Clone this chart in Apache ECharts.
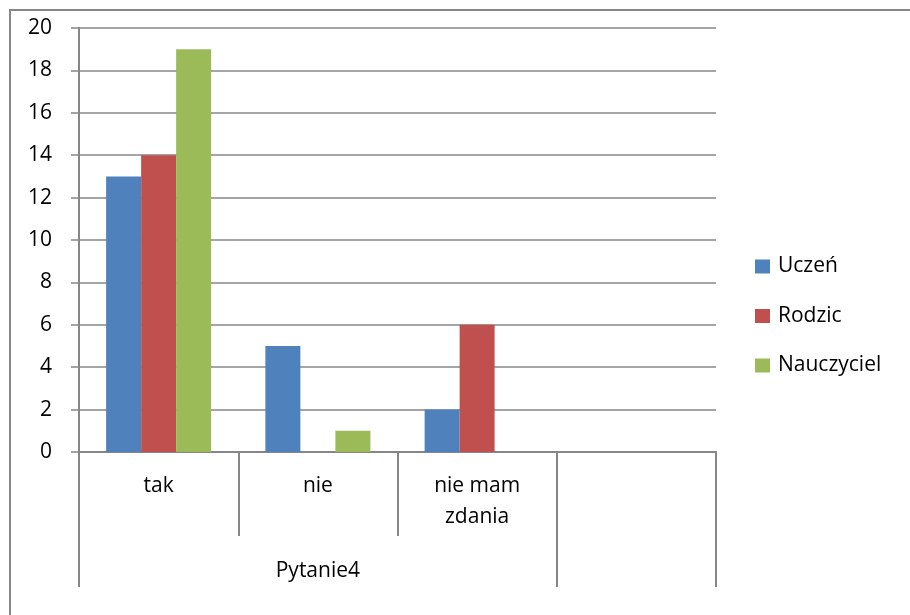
<!DOCTYPE html>
<html>
<head>
<meta charset="utf-8">
<script src="https://cdn.jsdelivr.net/npm/echarts@6/dist/echarts.min.js"></script>
<style>
  html, body { margin: 0; padding: 0; background: #fff; }
  #frame {
    position: absolute; left: 9px; top: 9px; width: 1000px; height: 700px;
    border-left: 2px solid #868686; border-top: 2px solid #868686;
  }
  #chart { position: absolute; left: 0; top: 0; width: 910px; height: 615px; }
</style>
</head>
<body>
<div id="frame"></div>
<div id="chart"></div>
<script>
// dane wykresu
const categories = ['tak', 'nie', 'nie mam\nzdania', '']
const groupLabel = 'Pytanie4'
const uczen = [13, 5, 2, null]
const rodzic = [14, null, 6, null]
const nauczyciel = [19, 1, null, null]
const seriesNames = ['Uczeń', 'Rodzic', 'Nauczyciel']
const colors = ['#4F81BD', '#C0504D', '#9BBB59']

const font = 'Open Sans'
const fontSize = 21
const gray = '#868686'

const chart = echarts.init(document.getElementById('chart'))

const barSeries = (name, data, color) => ({
  name: name,
  type: 'bar',
  data: data,
  barWidth: 35,
  barGap: '0%',
  itemStyle: { color: color },
  xAxisIndex: 0
})

const option = {
  animation: false,
  textStyle: { fontFamily: font },
  color: colors,
  grid: {
    left: 79,
    right: 194,
    top: 28,
    bottom: 163,
    containLabel: false
  },
  legend: {
    orient: 'vertical',
    left: 750,
    top: 251,
    itemWidth: 15,
    itemHeight: 14,
    itemGap: 28.5,
    icon: 'rect',
    textStyle: { fontFamily: font, fontSize: fontSize, color: '#000', lineHeight: 19, padding: [0, 0, 0, 3] },
    data: seriesNames
  },
  xAxis: [
    {
      type: 'category',
      data: categories,
      axisLine: { show: true, lineStyle: { color: gray, width: 2 } },
      axisTick: { show: true, interval: 0, length: 84, lineStyle: { color: gray, width: 2 } },
      axisLabel: {
        interval: 0,
        margin: 19,
        color: '#000',
        fontFamily: font,
        fontSize: fontSize,
        lineHeight: 31
      },
      splitLine: { show: false }
    },
    {
      type: 'value',
      position: 'bottom',
      min: 0,
      max: 4,
      axisLine: { show: false },
      axisTick: {
        show: true,
        customValues: [0, 3, 4],
        length: 135,
        lineStyle: { color: gray, width: 2 }
      },
      axisLabel: {
        show: true,
        customValues: [1.5],
        formatter: () => groupLabel,
        margin: 108,
        color: '#000',
        fontFamily: font,
        fontSize: fontSize,
        lineHeight: 22
      },
      splitLine: { show: false }
    }
  ],
  yAxis: {
    type: 'value',
    min: 0,
    max: 20,
    interval: 2,
    axisLine: { show: true, lineStyle: { color: gray, width: 2 } },
    axisTick: { show: true, length: 8, lineStyle: { color: gray, width: 1.5 } },
    axisLabel: { margin: 27, color: '#000', fontFamily: font, fontSize: fontSize },
    splitLine: { show: true, lineStyle: { color: gray, width: 1.5 } }
  },
  series: [
    barSeries(seriesNames[0], uczen, colors[0]),
    barSeries(seriesNames[1], rodzic, colors[1]),
    barSeries(seriesNames[2], nauczyciel, colors[2])
  ]
}

chart.setOption(option)
</script>
</body>
</html>
